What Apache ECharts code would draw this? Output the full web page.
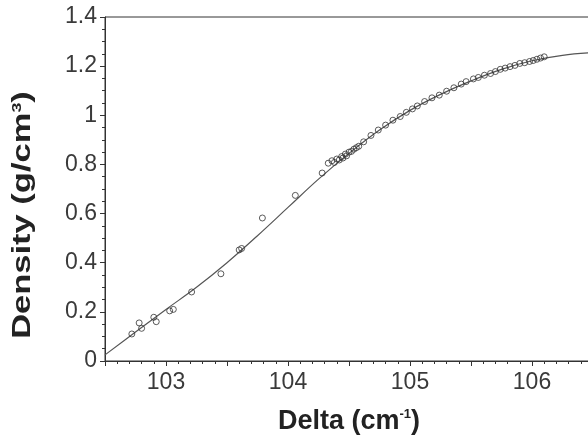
<!DOCTYPE html>
<html>
<head>
<meta charset="utf-8">
<script src="https://cdn.jsdelivr.net/npm/echarts@6/dist/echarts.min.js"></script>
<style>
  html, body { margin: 0; padding: 0; background: #fff; }
  #chart { width: 588px; height: 437px; }
</style>
</head>
<body>
<div id="chart"></div>
<script>
// Measured density against Delta shift (open circles)
const measuredDelta = [
  102.72, 102.78, 102.80, 102.90, 102.92, 103.03, 103.06, 103.21, 103.45, 103.60,
  103.62, 103.79, 104.06, 104.28, 104.33, 104.36, 104.38, 104.40, 104.42, 104.44,
  104.45, 104.47, 104.48, 104.50, 104.52, 104.54, 104.56, 104.58, 104.62, 104.68,
  104.74, 104.80, 104.86, 104.92, 104.97, 105.02, 105.06, 105.12, 105.18, 105.24,
  105.30, 105.36, 105.42, 105.46, 105.52, 105.56, 105.61, 105.66, 105.70, 105.74,
  105.78, 105.82, 105.86, 105.90, 105.94, 105.98, 106.01, 106.04, 106.07, 106.10
];
const measuredDensity = [
  0.110, 0.155, 0.133, 0.178, 0.160, 0.204, 0.210, 0.281, 0.355, 0.452,
  0.458, 0.582, 0.674, 0.765, 0.805, 0.815, 0.808, 0.822, 0.818, 0.832,
  0.826, 0.842, 0.835, 0.850, 0.853, 0.862, 0.868, 0.874, 0.892, 0.918,
  0.940, 0.960, 0.980, 0.995, 1.012, 1.026, 1.038, 1.056, 1.071, 1.082,
  1.098, 1.112, 1.127, 1.137, 1.148, 1.154, 1.163, 1.170, 1.178, 1.187,
  1.192, 1.198, 1.203, 1.211, 1.214, 1.219, 1.223, 1.228, 1.233, 1.238
];

// Fitted calibration curve
const fitDelta = [
  102.50, 102.75, 103.00, 103.25, 103.50, 103.75, 104.00, 104.25, 104.50,
  104.75, 105.00, 105.25, 105.50, 105.75, 106.00, 106.25, 106.50
];
const fitDensity = [
  0.025, 0.118, 0.210, 0.300, 0.400, 0.510, 0.625, 0.740, 0.845,
  0.940, 1.020, 1.085, 1.140, 1.187, 1.222, 1.244, 1.255
];

// Axis tick values
const xTicks = [103, 104, 105, 106];
const yTicks = [0, 0.2, 0.4, 0.6, 0.8, 1, 1.2, 1.4];

const axisColor = '#333';
const textColor = '#3a3a3a';
const titleColor = '#222';
const fontFamily = 'Liberation Sans, Arial, Helvetica, sans-serif';
const supStyle = { fontSize: 13, fontWeight: 'bold', color: titleColor, verticalAlign: 'top', padding: [0, 0, 12, 0] };

const chart = echarts.init(document.getElementById('chart'), null, { renderer: 'canvas' });

chart.setOption({
  backgroundColor: '#fff',
  animation: false,
  grid: {
    left: 105, top: 17, right: -5, bottom: 76,
    containLabel: false,
    outerBoundsMode: 'none',
    show: true, borderColor: axisColor, borderWidth: 1, backgroundColor: 'transparent'
  },
  // Vertical axis title, drawn in a wide lettering along its length
  graphic: [{
    type: 'text',
    x: 23, y: 215,
    rotation: Math.PI / 2,
    scaleX: 1.38,
    style: {
      text: 'Density (g/cm{sup|3})',
      font: 'bold 25px ' + fontFamily,
      fill: titleColor,
      align: 'center',
      verticalAlign: 'middle',
      rich: { sup: { font: 'bold 13px ' + fontFamily, fill: titleColor, verticalAlign: 'top', padding: [0, 0, 12, 0] } }
    }
  }],
  xAxis: {
    type: 'value',
    min: 102.5, max: 106.5, interval: 0.5,
    name: 'Delta (cm{sup|-1})',
    nameLocation: 'middle',
    nameGap: 47,
    nameTextStyle: {
      fontFamily, fontWeight: 'bold', fontSize: 27, color: titleColor,
      rich: { sup: supStyle }
    },
    axisLine: { show: true, onZero: false, lineStyle: { color: axisColor, width: 1 } },
    axisTick: { show: true, length: 5, lineStyle: { color: axisColor } },
    minorTick: { show: true, splitNumber: 5, length: 3, lineStyle: { color: axisColor } },
    splitLine: { show: false },
    axisLabel: {
      margin: 10, fontFamily, fontSize: 23, color: textColor,
      formatter: v => (xTicks.indexOf(v) >= 0 ? String(v) : '')
    }
  },
  yAxis: {
    type: 'value',
    min: 0, max: 1.4, interval: 0.2,
    axisLine: { show: true, onZero: false, lineStyle: { color: axisColor, width: 1 } },
    axisTick: { show: true, length: 5, lineStyle: { color: axisColor } },
    minorTick: { show: true, splitNumber: 4, length: 3, lineStyle: { color: axisColor } },
    splitLine: { show: false },
    axisLabel: {
      margin: 8, fontFamily, fontSize: 23, color: textColor,
      formatter: v => {
        const hit = yTicks.find(t => Math.abs(t - v) < 1e-9);
        return hit === undefined ? '' : String(hit);
      }
    }
  },
  series: [
    {
      type: 'line',
      data: fitDelta.map((x, i) => [x, fitDensity[i]]),
      smooth: 0.4,
      showSymbol: false,
      clip: true,
      lineStyle: { color: '#555', width: 1.2 },
      z: 2
    },
    {
      type: 'scatter',
      data: measuredDelta.map((x, i) => [x, measuredDensity[i]]),
      symbol: 'circle',
      symbolSize: 6,
      itemStyle: { color: 'rgba(255,255,255,0)', borderColor: '#333', borderWidth: 1 },
      z: 3
    }
  ]
});
</script>
</body>
</html>
